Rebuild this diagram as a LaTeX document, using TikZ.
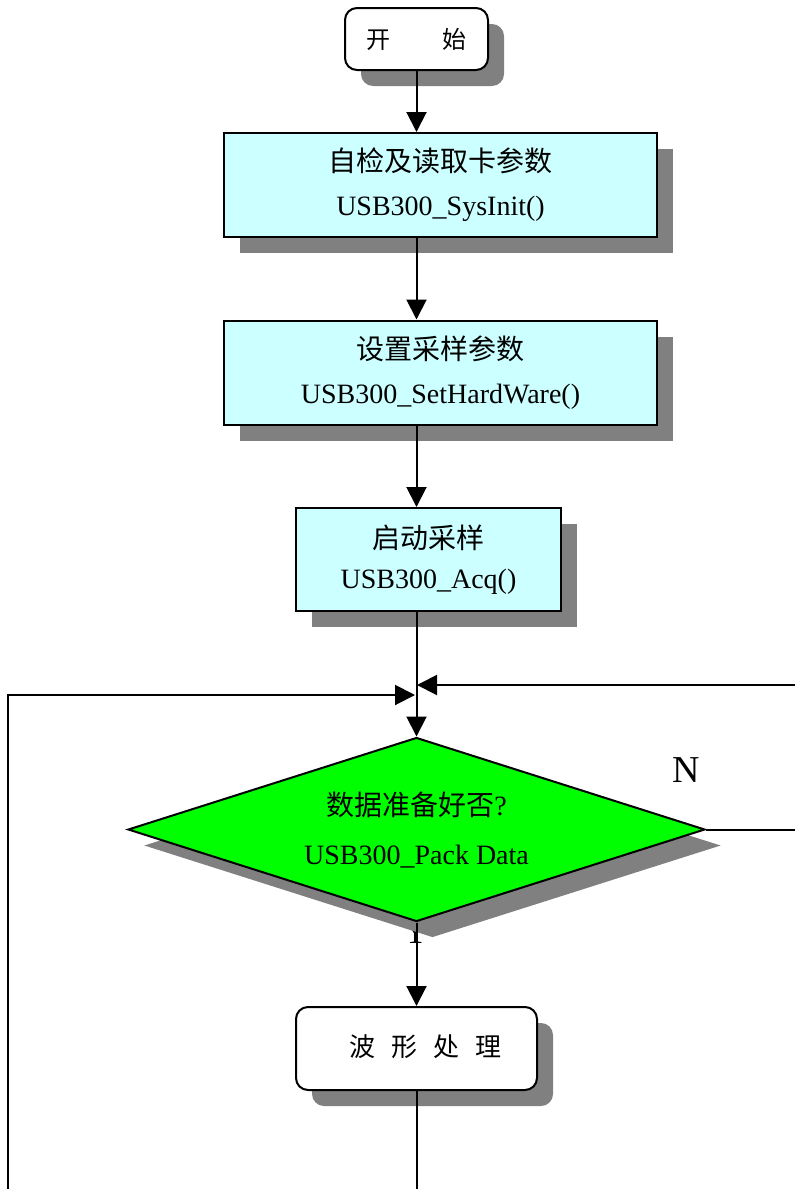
\documentclass[tikz,border=0pt]{standalone}
\usepackage{fontspec}
\setmainfont{Liberation Serif}
\newfontfamily\cjk{Noto Sans CJK SC}
\usetikzlibrary{shapes.geometric,shadows,arrows.meta}

\definecolor{boxcyan}{RGB}{204,255,255}
\definecolor{testgreen}{RGB}{0,255,0}

\tikzset{
  box/.style={draw,line width=1pt,fill=boxcyan,align=center,inner sep=0pt,
    font=\fontsize{14}{22}\selectfont,
    drop shadow={shadow xshift=8pt,shadow yshift=-8pt,fill=gray,opacity=1}},
  roundbox/.style={box,fill=white,rounded corners=6pt},
  decision/.style={box,diamond,shape aspect=3.136,fill=testgreen,font=\fontsize{14}{24.5}\selectfont},
  arr/.style={line width=1pt,-{Triangle[length=10pt,width=10pt]}},
  link/.style={line width=1pt}
}

\begin{document}
\begin{tikzpicture}[x=0.5pt,y=-0.5pt]
\useasboundingbox (0,0) rectangle (794,1189);

\node[roundbox,minimum width=71.5pt,minimum height=31pt,font=\fontsize{12}{14}\selectfont] (start) at (416.5,39) {\cjk 开\hspace{26pt}始};
\node[box,minimum width=216.5pt,minimum height=52pt] (init) at (440.5,185) {{\cjk 自检及读取卡参数}\\USB300\_SysInit()};
\node[box,minimum width=216.5pt,minimum height=52pt] (hw) at (440.5,372.5) {{\cjk 设置采样参数}\\USB300\_SetHardWare()};
\node[box,minimum width=132.5pt,minimum height=51.5pt,font=\fontsize{14}{20}\selectfont] (acq) at (428.5,559.5) {{\cjk 启动采样}\\USB300\_Acq()};

\node[font=\fontsize{19}{19}\selectfont] (yes) at (416,931) {Y};
\node[decision,minimum width=288.5pt,minimum height=92pt] (ready) at (416.5,829.5) {{\cjk 数据准备好否}?\\USB300\_Pack Data};
\node[font=\fontsize{19}{19}\selectfont] (no) at (686,770) {N};

\node[roundbox,minimum width=120.5pt,minimum height=41.5pt,font=\fontsize{13}{15}\selectfont] (proc) at (416.5,1048.5) {\raisebox{2.5pt}{\hspace*{9pt}\cjk 波\hspace{8pt}形\hspace{8pt}处\hspace{8pt}理}};

% joins on the line above the test
\coordinate (joinR) at (417,685);
\coordinate (joinL) at (415,695);
\coordinate (loopR) at (800,685);
\coordinate (loopL) at (8,1200);

\draw[arr] (start.south) -- (start.south |- init.north);
\draw[arr] (start.south |- init.south) -- (start.south |- hw.north);
\draw[arr] (start.south |- hw.south) -- (start.south |- acq.north);
\draw[arr] (start.south |- acq.south) -- (ready.north);
\draw[arr] (ready.south) -- (proc.north);

\draw[arr] (ready.east) -| (loopR) -- (joinR);
\draw[arr] (proc.south) |- (loopL) |- (joinL);

\end{tikzpicture}
\end{document}
